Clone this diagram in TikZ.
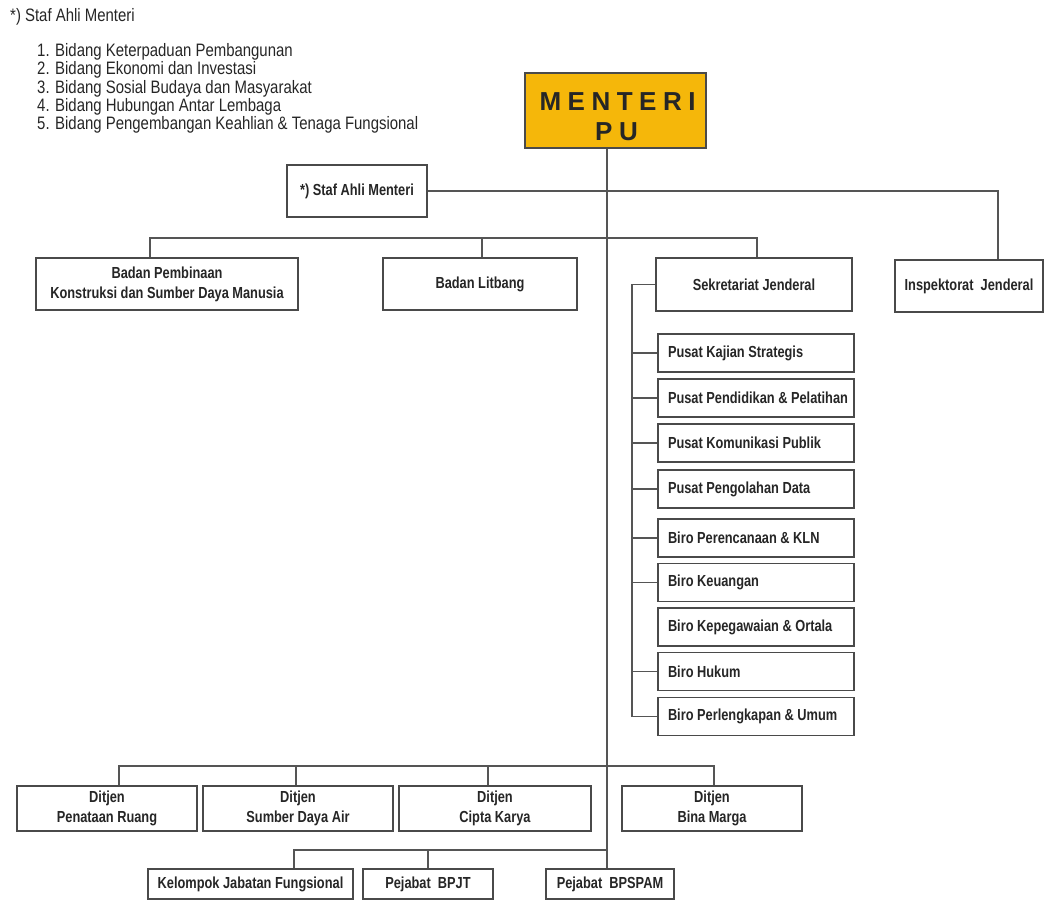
\documentclass[tikz,border=0pt]{standalone}
\usepackage{fontspec}
\setmainfont{Liberation Sans}
\newfontfamily\cond[FakeStretch=0.8]{Liberation Sans}
\newfontfamily\listfont[FakeStretch=0.83]{Liberation Sans}
\newfontfamily\widefont[LetterSpace=25]{Liberation Sans}
\definecolor{linec}{HTML}{555555}
\definecolor{boxc}{HTML}{4A4A4A}
\definecolor{txt}{HTML}{262626}
\definecolor{menc}{HTML}{F5B70A}
\newcommand{\lbox}[1]{\makebox[176pt][l]{#1}}
\begin{document}
\begin{tikzpicture}[x=1pt,y=-1pt,
  conn/.style={draw=linec, line width=1.5},
  box/.style={draw=boxc, line width=1.8, fill=white, inner sep=0pt, text=txt,
    font=\cond\bfseries\fontsize{16}{20}\selectfont, align=center},
  subbox/.style={box, minimum width=196, minimum height=38},
  listtext/.style={anchor=west, inner sep=0pt, text=txt, font=\listfont\fontsize{18}{19}\selectfont},
  mtext/.style={inner sep=0pt, text=txt, font=\widefont\bfseries\fontsize{26}{26}\selectfont}
]
\useasboundingbox (0,0) rectangle (1045,901);

% header list
\node[listtext] (hd) at (10,17) {*) Staf Ahli Menteri};
\node[listtext] (l1) at (37,52) {1. Bidang Keterpaduan Pembangunan};
\node[listtext] (l2) at (37,70) {2. Bidang Ekonomi dan Investasi};
\node[listtext] (l3) at (37,88.5) {3. Bidang Sosial Budaya dan Masyarakat};
\node[listtext] (l4) at (37,107) {4. Bidang Hubungan Antar Lembaga};
\node[listtext] (l5) at (37,125) {5. Bidang Pengembangan Keahlian \& Tenaga Fungsional};

% Menteri
\node[draw=boxc, line width=1.8, fill=menc, minimum width=181, minimum height=75, inner sep=0pt] (men) at (615.5,110.5) {};
\node[mtext] (mt) at ([xshift=2pt,yshift=8.5pt]men.center) {MENTERI};
\node[mtext] (pu) at ([xshift=1pt,yshift=-21.5pt]men.center) {PU};

% level 1/2
\node[box, minimum width=140, minimum height=52] (staf) at (357,191) {*) Staf Ahli Menteri};
\node[box, minimum width=262, minimum height=52] (bpk) at (167,284) {Badan Pembinaan\\Konstruksi dan Sumber Daya Manusia};
\node[box, minimum width=194, minimum height=52] (lit) at (480,284) {Badan Litbang};
\node[box, minimum width=196, minimum height=53] (sek) at (754,284.5) {Sekretariat Jenderal};
\node[box, minimum width=148, minimum height=52] (insp) at (969,286) {Inspektorat\ \ Jenderal};

% sekretariat sub units
\node[subbox] (b1) at (756,353) {\lbox{Pusat Kajian Strategis}};
\node[subbox] (b2) at (756,398) {\lbox{Pusat Pendidikan \& Pelatihan}};
\node[subbox] (b3) at (756,443) {\lbox{Pusat Komunikasi Publik}};
\node[subbox] (b4) at (756,489) {\lbox{Pusat Pengolahan Data}};
\node[subbox] (b5) at (756,538) {\lbox{Biro Perencanaan \& KLN}};
\node[subbox] (b6) at (756,582.5) {\lbox{Biro Keuangan}};
\node[subbox] (b7) at (756,627) {\lbox{Biro Kepegawaian \& Ortala}};
\node[subbox] (b8) at (756,671.5) {\lbox{Biro Hukum}};
\node[subbox] (b9) at (756,716.5) {\lbox{Biro Perlengkapan \& Umum}};

% Ditjen
\node[box, minimum width=180, minimum height=45] (pr) at (107,808.5) {Ditjen\\Penataan Ruang};
\node[box, minimum width=190, minimum height=45] (sda) at (298,808.5) {Ditjen\\Sumber Daya Air};
\node[box, minimum width=192, minimum height=45] (ck) at (495,808.5) {Ditjen\\Cipta Karya};
\node[box, minimum width=180, minimum height=45] (bm) at (712,808.5) {Ditjen\\Bina Marga};

% bottom
\node[box, minimum width=205, minimum height=30] (kjf) at (250.5,884) {Kelompok Jabatan Fungsional};
\node[box, minimum width=130, minimum height=30] (bpjt) at (428,884) {Pejabat\ \ BPJT};
\node[box, minimum width=128, minimum height=30] (bpspam) at (610,884) {Pejabat\ \ BPSPAM};

% coordinates
\coordinate (tk) at (607,0);
\coordinate (ic) at (998,0);
\coordinate (d1) at (150,238);
\coordinate (d2) at (482,238);
\coordinate (d3) at (757,238);
\coordinate (s0) at (632,0);
\coordinate (e1) at (119,766);
\coordinate (e2) at (296,766);
\coordinate (e3) at (488,766);
\coordinate (e4) at (714,766);
\coordinate (f1) at (294,850);
\coordinate (f2) at (428,850);
\coordinate (f3) at (607,850);

% connectors
\draw[conn] (men.south -| tk) -- (bpspam.north -| tk);
\draw[conn] (staf.east) -| (insp.north -| ic);
\draw[conn] (bpk.north -| d1) -- (d1) -- (d3) -- (sek.north -| d3);
\draw[conn] (d2) -- (lit.north -| d2);
\draw[conn] (sek.west) -| (b9.west -| s0) -- (b9.west);
\foreach \b in {b1,b2,b3,b4,b5,b6,b8} {\draw[conn] (\b.west -| s0) -- (\b.west);}
\draw[conn] (pr.north -| e1) -- (e1) -- (e4) -- (bm.north -| e4);
\draw[conn] (e2) -- (sda.north -| e2);
\draw[conn] (e3) -- (ck.north -| e3);
\draw[conn] (kjf.north -| f1) -- (f1) -- (f3);
\draw[conn] (f2) -- (bpjt.north -| f2);
\end{tikzpicture}
\end{document}
